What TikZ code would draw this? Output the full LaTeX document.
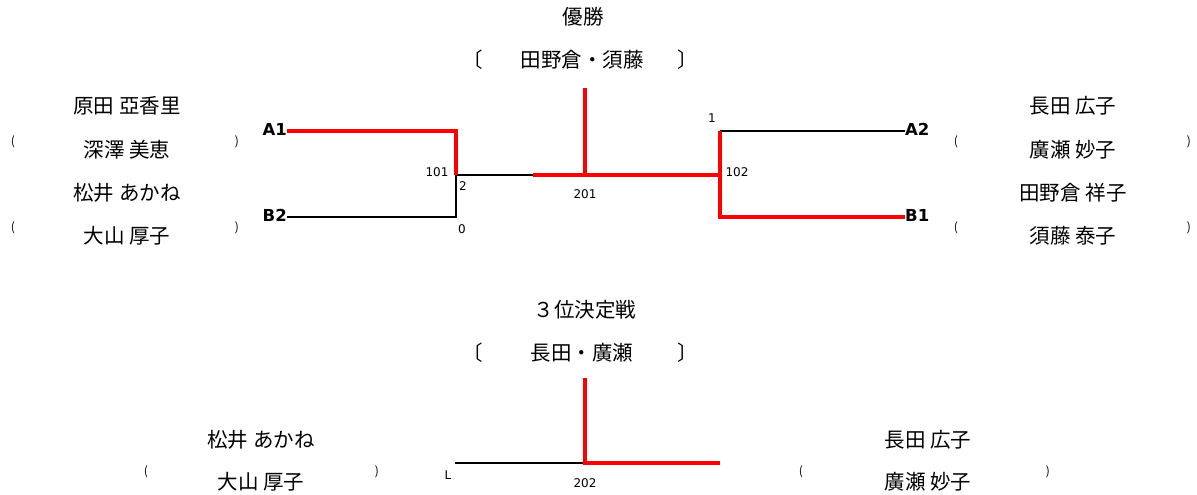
\documentclass[tikz,border=0pt]{standalone}
\usepackage{fontspec}
\setmainfont{Noto Sans CJK JP}
\newfontfamily\numfont{DejaVu Sans}
\begin{document}
\begin{tikzpicture}[x=1pt,y=-1pt,
  pname/.style={font=\fontsize{20.5}{22}\selectfont, inner sep=0pt, anchor=center},
  paren/.style={font=\fontsize{12}{13}\selectfont, inner sep=0pt},
  brk/.style={font=\fontsize{20.5}{22}\selectfont, inner sep=0pt},
  num/.style={font=\numfont\fontsize{12}{13}\selectfont, inner sep=0pt},
  seed/.style={font=\numfont\bfseries\fontsize{16.5}{18}\selectfont, inner sep=0pt},
  win/.style={draw=red, line width=3.6pt},
  lose/.style={draw=black, line width=1.6pt}]
\useasboundingbox (0,0) rectangle (1197,495);

% ---------- Final ----------
\node[pname] (title1) at (583,17) {優勝};
\node[brk] (lb1) at (473,60) {〔};
\node[pname] (champ) at (582,60) {田野倉・須藤};
\node[brk] (rb1) at (688,60) {〕};

% left players
\node[pname] (p1) at (127,106) {原田 亞香里};
\node[pname] (p2) at (127,150) {深澤 美恵};
\node[pname] (p3) at (127,193) {松井 あかね};
\node[pname] (p4) at (127,236) {大山 厚子};
\node[paren] (lp1) at (13,142) {(};
\node[paren] (rp1) at (237,142) {)};
\node[paren] (lp2) at (13,228) {(};
\node[paren] (rp2) at (237,228) {)};

% right players
\node[pname] (q1) at (1073,106) {長田 広子};
\node[pname] (q2) at (1073,150) {廣瀬 妙子};
\node[pname] (q3) at (1073,193) {田野倉 祥子};
\node[pname] (q4) at (1073,236) {須藤 泰子};
\node[paren] (lq1) at (956,142) {(};
\node[paren] (rq1) at (1189,142) {)};
\node[paren] (lq2) at (956,228) {(};
\node[paren] (rq2) at (1189,228) {)};

% seeds
\node[seed, anchor=east] (A1) at (287,129) {A1};
\node[seed, anchor=east] (B2) at (287,215) {B2};
\node[seed, anchor=west] (A2) at (905,129) {A2};
\node[seed, anchor=west] (B1) at (905,215) {B1};

% bracket coordinates
\coordinate (a1e) at (287,131);
\coordinate (b2e) at (287,217);
\coordinate (m101t) at (456,131);
\coordinate (m101b) at (456,217);
\coordinate (m101) at (456,175);
\coordinate (mid) at (533,175);
\coordinate (fin) at (585,175);
\coordinate (fintop) at (585,88);
\coordinate (m102) at (720,175);
\coordinate (m102t) at (720,131);
\coordinate (m102b) at (720,219);
\coordinate (a2e) at (905,131);
\coordinate (b1e) at (905,217);
\coordinate (b1s) at (720,217);

\draw[lose] (b2e) -- (m101b) -- (m101);
\draw[lose] (m101) -- (mid);
\draw[lose] (m102t) -- (a2e);
\draw[win] (a1e) -- (m101t) -- (m101);
\draw[win] (mid) -- (m102);
\draw[win] (fin) -- (fintop);
\draw[win] (m102t) -- (m102b);
\draw[win] (b1s) -- (b1e);

% match labels
\node[num] (n101) at (437,172) {101};
\node[num] (n2) at (463,186) {2};
\node[num] (n0) at (462,229) {0};
\node[num] (n201) at (585,194) {201};
\node[num] (n1) at (712,118) {1};
\node[num] (n102) at (737,172) {102};

% ---------- 3rd place ----------
\node[pname] (title2) at (585,310) {３位決定戦};
\node[brk] (lb2) at (473,353) {〔};
\node[pname] (third) at (582,353) {長田・廣瀬};
\node[brk] (rb2) at (688,353) {〕};

\node[pname] (s1) at (261,440) {松井 あかね};
\node[pname] (s2) at (261,482) {大山 厚子};
\node[paren] (ls) at (146,472) {(};
\node[paren] (rs) at (377,472) {)};
\node[pname] (t1) at (928,440) {長田 広子};
\node[pname] (t2) at (928,482) {廣瀬 妙子};
\node[paren] (lt) at (801,472) {(};
\node[paren] (rt) at (1048,472) {)};

\coordinate (l3) at (455,463);
\coordinate (c3) at (585,463);
\coordinate (c3top) at (585,378);
\coordinate (r3) at (720,463);
\draw[lose] (l3) -- (c3);
\draw[win] (c3top) -- (c3) -- (r3);
\node[num] (nL) at (448,475) {L};
\node[num] (n202) at (585,483) {202};
\end{tikzpicture}
\end{document}
